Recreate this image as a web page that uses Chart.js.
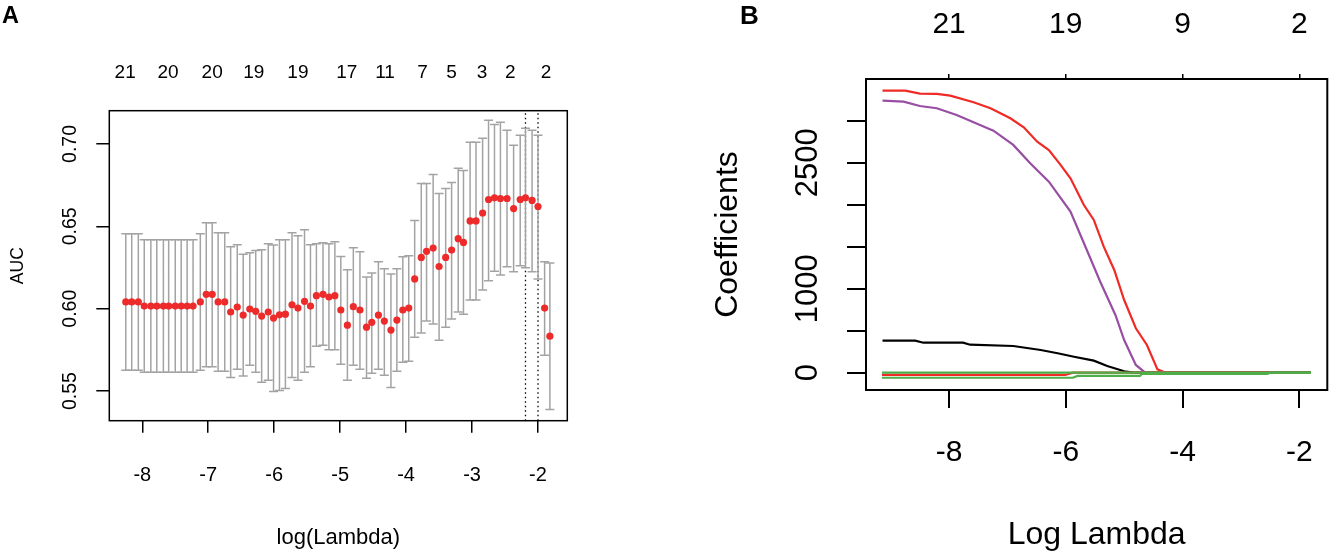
<!DOCTYPE html>
<html><head><meta charset="utf-8">
<script src="https://cdn.jsdelivr.net/npm/chart.js@4.4.0/dist/chart.umd.min.js"></script>
<style>
html,body{margin:0;padding:0;background:#fff;width:1330px;height:559px;overflow:hidden;}
#wrapA{position:absolute;left:0;top:0;width:640px;height:559px;}
#wrapB{position:absolute;left:640px;top:0;width:690px;height:559px;}
canvas{display:block;}
.panel{position:absolute;font-family:"Liberation Sans",Arial,sans-serif;font-weight:bold;line-height:1;color:#000;}
</style></head><body>
<div id="wrapA"><canvas id="cA" width="640" height="559" style="width:640px;height:559px"></canvas></div>
<div id="wrapB"><canvas id="cB" width="690" height="559" style="width:690px;height:559px"></canvas></div>
<div class="panel" style="left:2px;top:4px;font-size:23.5px;">A</div>
<div class="panel" style="left:740px;top:2px;font-size:26px;">B</div>
<script>
const FONT = '"Liberation Sans", Arial, Helvetica, sans-serif';

// ---------------- Panel A : cross-validated AUC ----------------
const lambdaA = [-8.25,-8.16,-8.06,-7.97,-7.87,-7.78,-7.68,-7.60,-7.50,-7.41,
  -7.32,-7.23,-7.12,-7.03,-6.94,-6.85,-6.75,-6.66,-6.56,-6.47,
  -6.37,-6.28,-6.19,-6.09,-6.01,-5.92,-5.83,-5.73,-5.64,-5.54,
  -5.45,-5.36,-5.26,-5.17,-5.08,-4.99,-4.89,-4.80,-4.70,-4.60,
  -4.52,-4.42,-4.33,-4.23,-4.14,-4.05,-3.96,-3.87,-3.77,-3.69,
  -3.59,-3.50,-3.40,-3.31,-3.21,-3.13,-3.03,-2.94,-2.84,-2.75,
  -2.66,-2.57,-2.47,-2.37,-2.27,-2.19,-2.09,-2.00,-1.90,-1.82];
const aucMean = [0.6041,0.6041,0.6041,0.6016,0.6016,0.6016,0.6016,0.6016,0.6016,0.6016,
  0.6016,0.6016,0.6041,0.6087,0.6087,0.6041,0.6041,0.5980,0.6010,0.5961,
  0.5998,0.5984,0.5955,0.5980,0.5943,0.5963,0.5967,0.6024,0.6004,0.6045,
  0.6016,0.6079,0.6087,0.6071,0.6079,0.5992,0.5900,0.6012,0.5992,0.5888,
  0.5917,0.5961,0.5925,0.5870,0.5931,0.5992,0.6004,0.6181,0.6311,0.6348,
  0.6368,0.6256,0.6311,0.6356,0.6425,0.6402,0.6533,0.6533,0.6581,0.6663,
  0.6673,0.6669,0.6669,0.6608,0.6663,0.6673,0.6657,0.6620,0.6004,0.5833];
const aucUpper = [0.6455,0.6455,0.6455,0.6419,0.6419,0.6419,0.6419,0.6419,0.6419,0.6419,
  0.6419,0.6419,0.6455,0.6522,0.6522,0.6461,0.6461,0.6376,0.6388,0.6331,
  0.6339,0.6354,0.6358,0.6394,0.6386,0.6419,0.6419,0.6461,0.6443,0.6480,
  0.6388,0.6394,0.6400,0.6394,0.6407,0.6317,0.6236,0.6370,0.6346,0.6193,
  0.6217,0.6285,0.6242,0.6211,0.6242,0.6315,0.6321,0.6535,0.6760,0.6760,
  0.6815,0.6699,0.6730,0.6766,0.6852,0.6839,0.7010,0.7010,0.7035,0.7144,
  0.7118,0.7132,0.7083,0.6992,0.7053,0.7096,0.7083,0.7053,0.6285,0.6278];
const aucLower = [0.5626,0.5626,0.5626,0.5614,0.5614,0.5614,0.5614,0.5614,0.5614,0.5614,
  0.5614,0.5614,0.5626,0.5648,0.5648,0.5620,0.5620,0.5583,0.5632,0.5591,
  0.5657,0.5614,0.5553,0.5565,0.5498,0.5504,0.5516,0.5583,0.5565,0.5614,
  0.5648,0.5772,0.5778,0.5750,0.5750,0.5663,0.5565,0.5657,0.5632,0.5577,
  0.5608,0.5632,0.5596,0.5522,0.5620,0.5675,0.5681,0.5827,0.5852,0.5925,
  0.5907,0.5809,0.5888,0.5937,0.5980,0.5967,0.6053,0.6053,0.6114,0.6169,
  0.6228,0.6205,0.6254,0.6224,0.6260,0.6248,0.6224,0.6181,0.5717,0.5388];
const countPosA = [-8.26,-7.61,-6.94,-6.31,-5.64,-4.90,-4.32,-3.75,-3.31,-2.85,-2.42,-1.88];
const countLabelsA = ['21','20','20','19','19','17','11','7','5','3','2','2'];
const selectedLambda = [-2.19, -2.00];
const xTicksA = [-8,-7,-6,-5,-4,-3,-2];
const yTicksA = [0.55,0.60,0.65,0.70];
const xRangeA = [-8.50, -1.556];
const yRangeA = [0.532, 0.7202];

// ---------------- Panel B : coefficient paths ----------------
const redX = [-9.14,-8.75,-8.50,-8.21,-7.98,-7.58,-7.29,-6.95,-6.72,-6.49,-6.29,-6.09,-5.92,-5.69,-5.52,-5.35,-5.17,-5.00,-4.80,-4.61,-4.43,-4.29,-1.80];
const redY = [3357,3357,3321,3318,3298,3219,3148,3029,2921,2750,2651,2473,2314,1996,1818,1500,1223,865,529,330,40,0,0];
const purpleX = [-9.14,-8.78,-8.50,-8.21,-7.87,-7.47,-7.24,-6.90,-6.61,-6.29,-5.92,-5.64,-5.41,-5.15,-5.00,-4.80,-4.64,-1.80];
const purpleY = [3238,3226,3175,3148,3068,2949,2881,2711,2493,2274,1917,1461,1083,687,389,92,0,0];
const blackX = [-9.14,-8.58,-8.44,-7.76,-7.64,-6.90,-6.43,-6.14,-5.86,-5.52,-5.29,-5.00,-4.84,-1.80];
const blackY = [381,381,357,357,333,318,270,231,190,143,80,17,0,0];
const red2X = [-9.15,-6.01,-5.88,-1.80];
const red2Y = [-27,-27,0,0];
const green2X = [-9.15,-5.88,-5.80,-4.73,-4.70,-2.55,-2.50,-1.80];
const green2Y = [-60,-60,-39,-39,-15,-15,0,0];
const green1X = [-9.15,-1.80];
const green1Y = [0,0];
const xTicksB = [-8,-6,-4,-2];
const countLabelsB = ['21','19','9','2'];
const yTicksB = [0,500,1000,1500,2000,2500,3000];
const yShownB = [0,1000,2500];
const xRangeB = [-9.423, -1.52];
const yRangeB = [-206, 3496];

// ---------------- helpers ----------------
function zip(xs, ys){ return xs.map((x,i)=>({x:x, y:ys[i]})); }
function fixSize(prop, val){
  return function(s){ s[prop] = val; s.paddingLeft = 0; s.paddingRight = 0; s.paddingTop = 0; s.paddingBottom = 0; };
}
function setTicks(vals){ return function(s){ s.ticks = vals.map(v=>({value:v})); }; }
function boxPlugin(lw){
  return { id:'box'+lw, afterDraw(chart){
    const a = chart.chartArea, c = chart.ctx;
    c.save(); c.strokeStyle = '#000'; c.lineWidth = lw;
    c.strokeRect(a.left, a.top, a.right - a.left, a.bottom - a.top);
    c.restore();
  }};
}

// ---------------- Chart A ----------------
const segData = [];
lambdaA.forEach((x,i)=>{ segData.push({x:x,y:aucLower[i]}); segData.push({x:x,y:aucUpper[i]}); segData.push({x:x,y:null}); });
const capData = lambdaA.map((x,i)=>({x:x,y:aucUpper[i]})).concat(lambdaA.map((x,i)=>({x:x,y:aucLower[i]})));
const meanData = zip(lambdaA, aucMean);
const vlineSets = selectedLambda.map(v=>({
  type:'scatter', showLine:true, data:[{x:v,y:yRangeA[0]},{x:v,y:yRangeA[1]}],
  borderColor:'#000', borderWidth:1.3, borderDash:[1.5,3], pointRadius:0, fill:false
}));

new Chart(document.getElementById('cA'), {
  type:'scatter',
  data:{ datasets:[
    {data:meanData, pointStyle:'circle', pointRadius:3.6, backgroundColor:'#EE2B2B', borderColor:'#EE2B2B', borderWidth:0, pointHoverRadius:3.6},
    {data:capData, pointStyle:'line', pointRadius:4.5, borderColor:'#A3A3A3', borderWidth:1.5, backgroundColor:'#A3A3A3'},
    {data:segData, showLine:true, spanGaps:false, borderColor:'#A3A3A3', borderWidth:1.5, pointRadius:0},
    ...vlineSets
  ]},
  options:{
    responsive:false, animation:false, devicePixelRatio:1,
    layout:{padding:{left:0,top:0,right:640-567.3,bottom:0}},
    plugins:{legend:{display:false}, tooltip:{enabled:false}},
    scales:{
      x:{type:'linear', position:'bottom', min:xRangeA[0], max:xRangeA[1],
        afterBuildTicks:setTicks(xTicksA), afterFit:fixSize('height',559-420.7),
        grid:{drawOnChartArea:false, drawTicks:true, tickLength:12, color:'#000', lineWidth:1.5},
        border:{display:false},
        ticks:{color:'#000', font:{family:FONT,size:20}, padding:31, maxRotation:0, autoSkip:false, callback:v=>String(v)},
        title:{display:true, text:'log(Lambda)', color:'#000', font:{family:FONT,size:22}, padding:{top:0,bottom:8.1}}
      },
      xTop:{type:'linear', position:'top', min:xRangeA[0], max:xRangeA[1],
        afterBuildTicks:setTicks(countPosA), afterFit:fixSize('height',110.7),
        grid:{display:false, drawTicks:false, tickLength:0}, border:{display:false},
        ticks:{color:'#000', font:{family:FONT,size:19}, padding:26.7, maxRotation:0, autoSkip:false,
          callback:(v,i)=>countLabelsA[i]}
      },
      y:{type:'linear', position:'left', min:yRangeA[0], max:yRangeA[1],
        afterBuildTicks:setTicks(yTicksA), afterFit:fixSize('width',109.3),
        grid:{drawOnChartArea:false, drawTicks:true, tickLength:13, color:'#000', lineWidth:1.5},
        border:{display:false},
        ticks:{color:'#000', font:{family:FONT,size:19.5}, padding:6.6, minRotation:90, maxRotation:90, crossAlign:'center', autoSkip:false,
          callback:v=>v.toFixed(2)},
        title:{display:true, text:'AUC', color:'#000', font:{family:FONT,size:17.5}, padding:{top:7.8,bottom:0}}
      }
    }
  },
  plugins:[boxPlugin(1.5)]
});

// ---------------- Chart B ----------------
const lineDs = (xs, ys, col) => ({data:zip(xs,ys), showLine:true, borderColor:col, borderWidth:2.2, pointRadius:0, fill:false});
new Chart(document.getElementById('cB'), {
  type:'scatter',
  data:{ datasets:[
    lineDs(green1X, green1Y, '#4DAF4A'),
    lineDs(green2X, green2Y, '#4DAF4A'),
    lineDs(red2X, red2Y, '#F02A25'),
    lineDs(purpleX, purpleY, '#984EA3'),
    lineDs(redX, redY, '#F02A25'),
    lineDs(blackX, blackY, '#000000')
  ]},
  options:{
    responsive:false, animation:false, devicePixelRatio:1,
    layout:{padding:{left:0,top:0,right:690-687.3,bottom:0}},
    plugins:{legend:{display:false}, tooltip:{enabled:false}},
    scales:{
      x:{type:'linear', position:'bottom', min:xRangeB[0], max:xRangeB[1],
        afterBuildTicks:setTicks(xTicksB), afterFit:fixSize('height',559-390),
        grid:{drawOnChartArea:false, drawTicks:true, tickLength:18, color:'#000', lineWidth:2},
        border:{display:false},
        ticks:{color:'#000', font:{family:FONT,size:30}, padding:26.7, maxRotation:0, autoSkip:false, callback:v=>String(v)},
        title:{display:true, text:'Log Lambda', color:'#000', font:{family:FONT,size:32}, padding:{top:0,bottom:4.8}}
      },
      xTop:{type:'linear', position:'top', min:xRangeB[0], max:xRangeB[1],
        afterBuildTicks:setTicks(xTicksB), afterFit:fixSize('height',79),
        grid:{drawOnChartArea:false, drawTicks:true, tickLength:5, color:'#000', lineWidth:1.5},
        border:{display:false},
        ticks:{color:'#000', font:{family:FONT,size:30}, padding:31, maxRotation:0, autoSkip:false,
          callback:(v,i)=>countLabelsB[i]}
      },
      y:{type:'linear', position:'left', min:yRangeB[0], max:yRangeB[1],
        afterBuildTicks:setTicks(yTicksB), afterFit:fixSize('width',226),
        grid:{drawOnChartArea:false, drawTicks:true, tickLength:19, color:'#000', lineWidth:2},
        border:{display:false},
        ticks:{color:'#000', font:{family:FONT,size:31}, padding:4.5, minRotation:90, maxRotation:90, crossAlign:'center', autoSkip:false,
          callback:v=>yShownB.includes(v) ? String(v) : ''},
        title:{display:true, text:'Coefficients', color:'#000', font:{family:FONT,size:32}, padding:{top:68.8,bottom:0}}
      }
    }
  },
  plugins:[boxPlugin(2)]
});
</script>
</body></html>
